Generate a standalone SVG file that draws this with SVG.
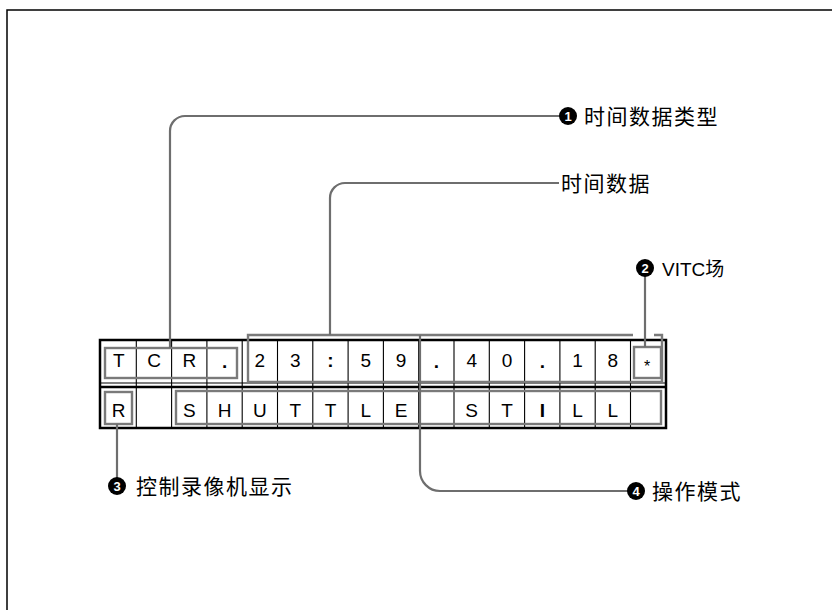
<svg xmlns="http://www.w3.org/2000/svg" width="832" height="610" viewBox="0 0 832 610">
<style>
.frame{fill:none;stroke:#000;stroke-width:1.5}
.thick{fill:none;stroke:#000;stroke-width:2.5}
.thin{fill:none;stroke:#000;stroke-width:1.1}
.hl{fill:none;stroke:#7a7a7a;stroke-width:2.4}
.conn{fill:none;stroke:#6e6e6e;stroke-width:2.2}
.ch{font-family:"Liberation Sans",Arial,sans-serif;font-size:19px;fill:#000;text-anchor:middle}
.b{font-weight:bold}
.lbl{font-family:"Liberation Sans","Noto Sans CJK SC",sans-serif;font-size:21px;letter-spacing:1.5px;fill:#000}
.num{font-family:"Liberation Sans",Arial,sans-serif;font-size:13px;font-weight:bold;fill:#fff;text-anchor:middle}
</style>
<rect class="frame" x="7" y="10" width="840" height="620"/>

<g id="display">
  <rect class="thick" x="100" y="340" width="566" height="88"/>
  <line class="thin" x1="100" y1="383" x2="666" y2="383"/>
  <line class="thick" x1="100" y1="387" x2="666" y2="387"/>
  <path class="thin" d="M136.3,340V428M171.6,340V428M206.9,340V428M242.2,340V428M277.5,340V428M312.8,340V428M348.1,340V428M383.4,340V428M418.7,340V428M454,340V428M489.3,340V428M524.6,340V428M559.9,340V428M595.2,340V428M630.5,340V428"/>
  <g id="row1">
    <text class="ch" x="118.7" y="367">T</text>
    <text class="ch" x="154" y="367">C</text>
    <text class="ch" x="189.3" y="367">R</text>
    <text class="ch b" x="224.6" y="368">.</text>
    <text class="ch" x="259.9" y="367">2</text>
    <text class="ch" x="295.2" y="367">3</text>
    <text class="ch b" x="330.5" y="367">:</text>
    <text class="ch" x="365.8" y="367">5</text>
    <text class="ch" x="401.1" y="367">9</text>
    <text class="ch b" x="436.4" y="368">.</text>
    <text class="ch" x="471.7" y="367">4</text>
    <text class="ch" x="507" y="367">0</text>
    <text class="ch b" x="542.3" y="368">.</text>
    <text class="ch" x="577.6" y="367">1</text>
    <text class="ch" x="612.9" y="367">8</text>
    <text class="ch" x="647" y="372" style="font-size:16px">*</text>
  </g>
  <g id="row2">
    <text class="ch" x="118.7" y="417">R</text>
    <text class="ch" x="189.3" y="417">S</text>
    <text class="ch" x="224.6" y="417">H</text>
    <text class="ch" x="259.9" y="417">U</text>
    <text class="ch" x="295.2" y="417">T</text>
    <text class="ch" x="330.5" y="417">T</text>
    <text class="ch" x="365.8" y="417">L</text>
    <text class="ch" x="401.1" y="417">E</text>
    <text class="ch" x="471.7" y="417">S</text>
    <text class="ch" x="507" y="417">T</text>
    <text class="ch b" x="542.3" y="417">I</text>
    <text class="ch" x="577.6" y="417">L</text>
    <text class="ch" x="612.9" y="417">L</text>
  </g>
  <g id="highlights">
    <rect class="hl" x="105" y="348" width="132" height="30"/>
    <path class="hl" d="M654,335H662V382H248V335H633"/>
    <rect class="hl" x="634" y="347" width="27" height="31"/>
    <rect class="hl" x="105" y="392" width="27" height="32"/>
    <rect class="hl" x="176" y="391" width="485" height="33"/>
  </g>
</g>

<g id="connectors">
  <path class="conn" d="M170,348V131A15,15 0 0 1 185,116H562"/>
  <path class="conn" d="M330,335V198A15,15 0 0 1 345,183H559"/>
  <path class="conn" d="M645,276V347"/>
  <path class="conn" d="M117,424V478"/>
  <path class="conn" d="M420,335V471A20,20 0 0 0 440,491H630"/>
</g>

<g id="label1">
  <circle cx="568" cy="116" r="9" fill="#000"/>
  <text class="num" x="568" y="120.7">1</text>
  <text class="lbl" x="584" y="123.5">时间数据类型</text>
</g>
<g id="label-timedata">
  <text class="lbl" x="561" y="191">时间数据</text>
</g>
<g id="label2">
  <circle cx="645" cy="268" r="9" fill="#000"/>
  <text class="num" x="645" y="272.7">2</text>
  <text class="lbl" x="662" y="275.5" style="letter-spacing:0;font-size:19px">VITC场</text>
</g>
<g id="label3">
  <circle cx="117" cy="486" r="9" fill="#000"/>
  <text class="num" x="117" y="490.7">3</text>
  <text class="lbl" x="136" y="493.5">控制录像机显示</text>
</g>
<g id="label4">
  <circle cx="636" cy="491" r="9" fill="#000"/>
  <text class="num" x="636" y="495.7">4</text>
  <text class="lbl" x="652" y="498.5">操作模式</text>
</g>
</svg>
